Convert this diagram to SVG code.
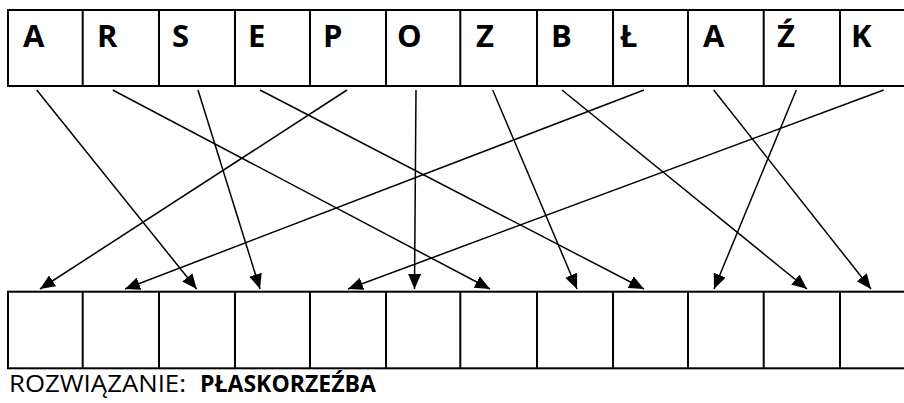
<svg xmlns="http://www.w3.org/2000/svg" width="904" height="403" viewBox="0 0 904 403">
<defs>
<style>
.row{fill:none;stroke:#000;stroke-width:2}
.div{stroke:#000;stroke-width:2}
.let{font-family:"Open Sans","Liberation Sans",sans-serif;font-weight:bold;font-size:31px;fill:#000}
.ln{stroke:#000;stroke-width:1.5;fill:none;marker-end:url(#ah)}
.sol{font-family:"Open Sans","Liberation Sans",sans-serif;font-size:23px;fill:#000}
</style>
<marker id="ah" viewBox="0 0 15 13" refX="15" refY="6.5" markerWidth="15" markerHeight="13" markerUnits="userSpaceOnUse" orient="auto">
<path d="M0,0 L15,6.5 L0,13 z" fill="#000"/>
</marker>
</defs>
<rect width="904" height="403" fill="#fff"/>
<g id="top-row">
<rect class="row" x="8" y="10" width="910" height="76"/>
<path class="div" d="M82.7,10V86M159,10V86M235,10V86M310,10V86M386,10V86M460.3,10V86M537,10V86M613,10V86M688,10V86M763.7,10V86M840,10V86"/>
</g>
<g id="top-letters">
<g id="t1"><text class="let" x="23" y="47">A</text></g>
<g id="t2"><text class="let" x="97" y="47">R</text></g>
<g id="t3"><text class="let" x="172" y="47">S</text></g>
<g id="t4"><text class="let" x="248" y="47">E</text></g>
<g id="t5"><text class="let" x="323" y="47">P</text></g>
<g id="t6"><text class="let" x="397" y="47">O</text></g>
<g id="t7"><text class="let" x="476" y="47">Z</text></g>
<g id="t8"><text class="let" x="551" y="47">B</text></g>
<g id="t9"><text class="let" x="620" y="47">Ł</text></g>
<g id="t10"><text class="let" x="703" y="47">A</text></g>
<g id="t11"><text class="let" x="777" y="47">Ź</text></g>
<g id="t12"><text class="let" x="851" y="47">K</text></g>
</g>
<g id="bottom-row">
<rect class="row" x="8" y="291.7" width="910" height="76.6"/>
<path class="div" d="M82.7,291.7V368.3M159,291.7V368.3M235,291.7V368.3M310,291.7V368.3M386,291.7V368.3M460.3,291.7V368.3M537,291.7V368.3M613,291.7V368.3M688,291.7V368.3M763.7,291.7V368.3M840,291.7V368.3"/>
</g>
<g id="connectors">
<line class="ln" x1="347" y1="90" x2="40" y2="289"/>
<line class="ln" x1="644" y1="90" x2="125" y2="289"/>
<line class="ln" x1="36.7" y1="90" x2="196.7" y2="289"/>
<line class="ln" x1="198" y1="90" x2="260" y2="289"/>
<line class="ln" x1="883.7" y1="90" x2="348" y2="289"/>
<line class="ln" x1="416" y1="90" x2="414.5" y2="289"/>
<line class="ln" x1="112.7" y1="90" x2="490" y2="289"/>
<line class="ln" x1="492.7" y1="90" x2="577" y2="289"/>
<line class="ln" x1="260" y1="90" x2="644" y2="289"/>
<line class="ln" x1="796.3" y1="90" x2="714" y2="289"/>
<line class="ln" x1="562" y1="90" x2="807" y2="289"/>
<line class="ln" x1="713.7" y1="90" x2="871" y2="289"/>
</g>
<g id="solution">
<text class="sol" x="9" y="392" textLength="177" lengthAdjust="spacingAndGlyphs">ROZWIĄZANIE:</text>
<text class="sol" x="200" y="392" font-weight="bold" textLength="176" lengthAdjust="spacingAndGlyphs">PŁASKORZEŹBA</text>
</g>
</svg>
